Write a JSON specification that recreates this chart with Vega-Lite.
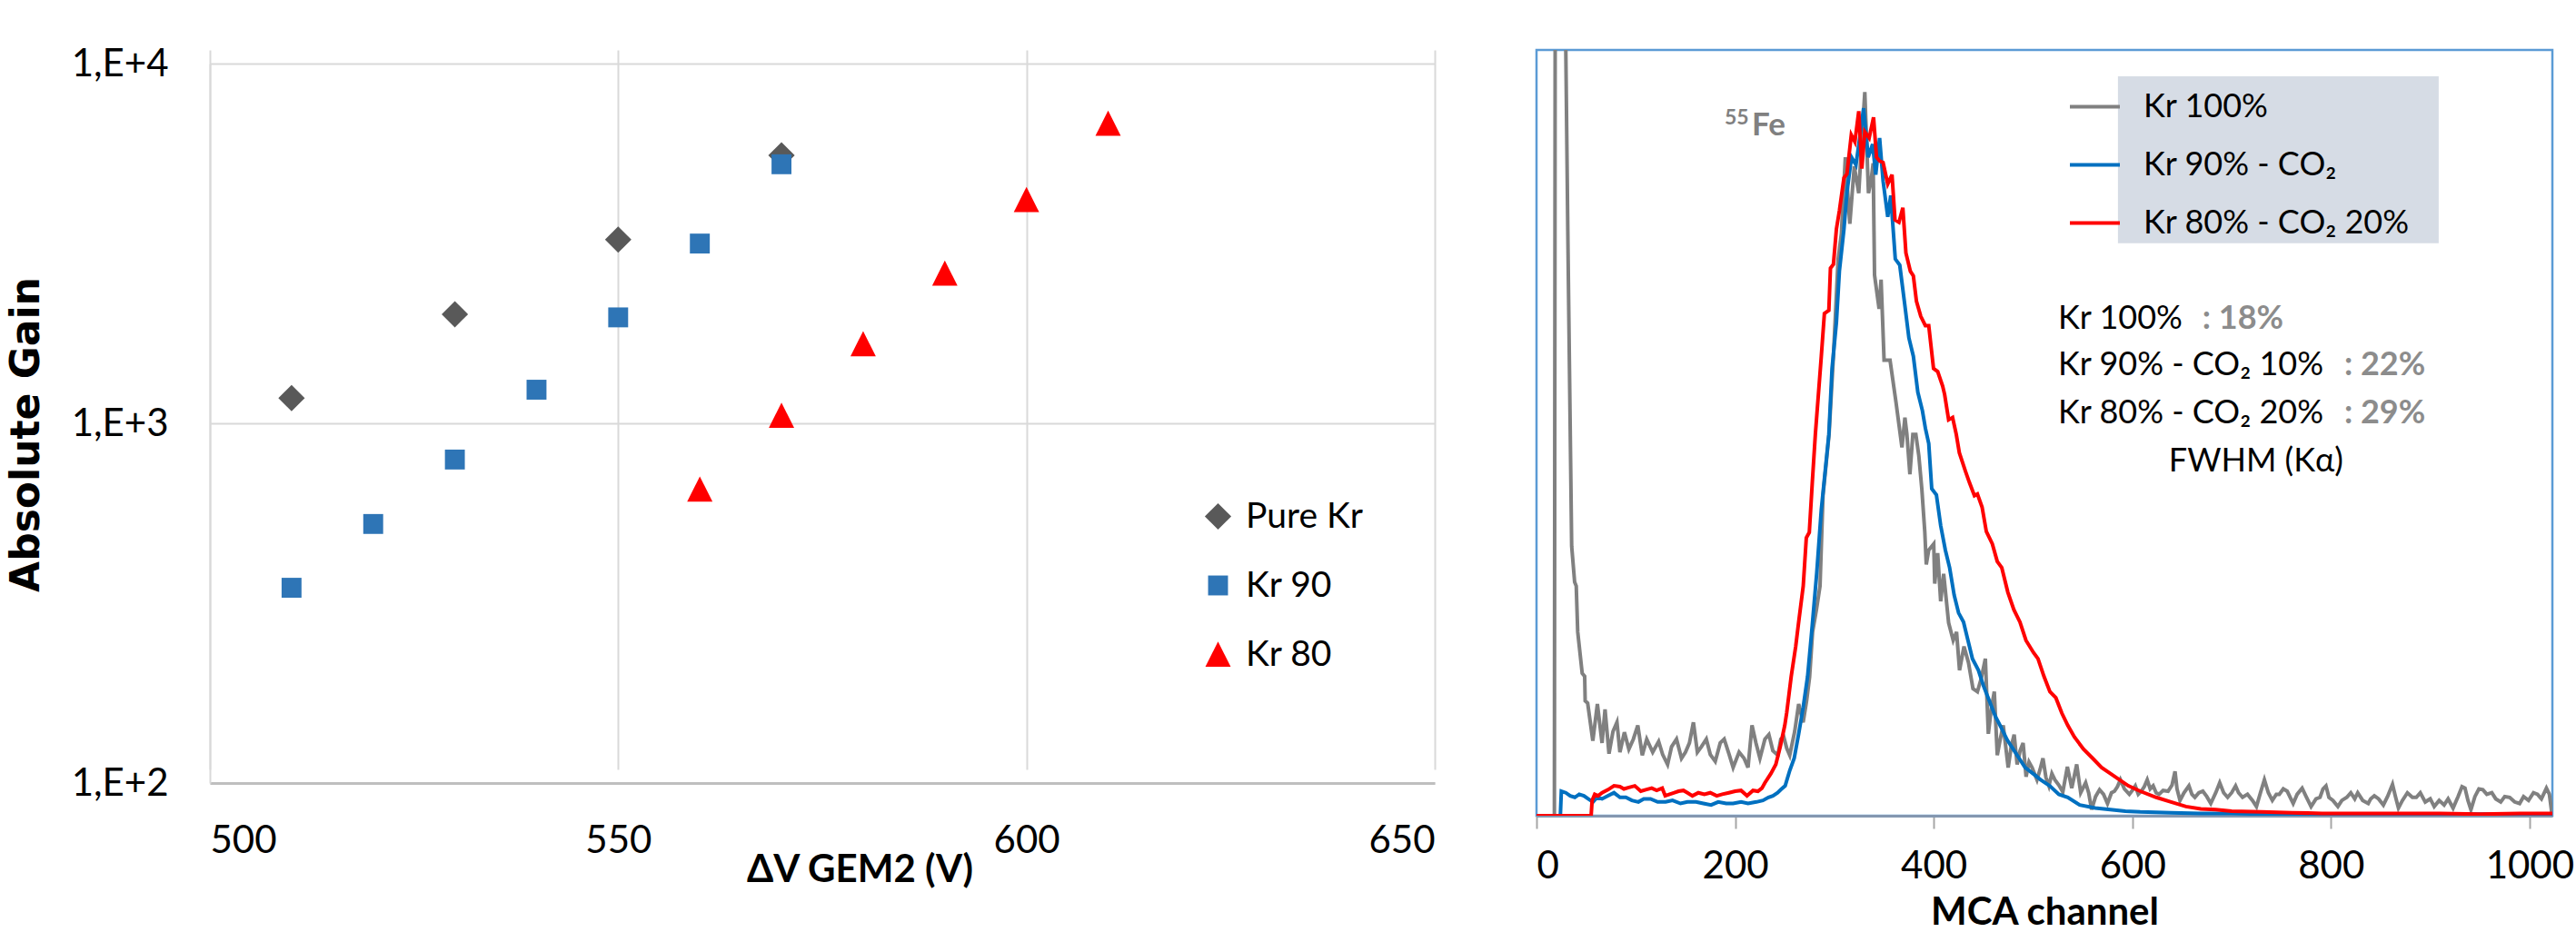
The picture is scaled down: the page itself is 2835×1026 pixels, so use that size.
{
  "$schema": "https://vega.github.io/schema/vega-lite/v6.json",
  "background": "white",
  "padding": {"left": 7, "top": 49, "right": 0, "bottom": 0},
  "config": {"view": {"stroke": null}, "font": "Lato"},
  "datasets": {
    "gain": [
      {"series": "Pure Kr", "dv": 510, "gain": 1175},
      {"series": "Pure Kr", "dv": 530, "gain": 2010},
      {"series": "Pure Kr", "dv": 550, "gain": 3240},
      {"series": "Pure Kr", "dv": 570, "gain": 5560},
      {"series": "Kr 90", "dv": 510, "gain": 349},
      {"series": "Kr 90", "dv": 520, "gain": 525},
      {"series": "Kr 90", "dv": 530, "gain": 793},
      {"series": "Kr 90", "dv": 540, "gain": 1240},
      {"series": "Kr 90", "dv": 550, "gain": 1970},
      {"series": "Kr 90", "dv": 560, "gain": 3160},
      {"series": "Kr 90", "dv": 570, "gain": 5250},
      {"series": "Kr 80", "dv": 560, "gain": 655},
      {"series": "Kr 80", "dv": 570, "gain": 1050},
      {"series": "Kr 80", "dv": 580, "gain": 1660},
      {"series": "Kr 80", "dv": 590, "gain": 2610},
      {"series": "Kr 80", "dv": 600, "gain": 4180},
      {"series": "Kr 80", "dv": 610, "gain": 6810}
    ],
    "kr100": [
      {"ch":0,"v":0},{"ch":17,"v":0},{"ch":18,"v":0},{"ch":19,"v":1300},{"ch":27,"v":1300},{"ch":29.5,"v":1000},{"ch":31.7,"v":742},{"ch":34,"v":498},{"ch":35.4,"v":352},{"ch":38.4,"v":305},{"ch":40,"v":300},{"ch":41.5,"v":240},{"ch":46,"v":186},{"ch":48.5,"v":182},{"ch":49,"v":150},{"ch":51.5,"v":147},{"ch":56.7,"v":98},{"ch":61.3,"v":146},{"ch":66,"v":95},{"ch":69,"v":139},{"ch":73,"v":81},{"ch":77,"v":110},{"ch":81,"v":122},{"ch":84,"v":83},{"ch":88.5,"v":109},{"ch":93,"v":87},{"ch":97.5,"v":100},{"ch":102,"v":118},{"ch":106.5,"v":79},{"ch":111,"v":100},{"ch":117,"v":83},{"ch":123,"v":97},{"ch":127,"v":80},{"ch":132,"v":67},{"ch":136,"v":90},{"ch":141,"v":100},{"ch":146,"v":75},{"ch":150,"v":83},{"ch":154,"v":95},{"ch":158,"v":122},{"ch":162,"v":83},{"ch":166,"v":90},{"ch":171,"v":100},{"ch":175,"v":80},{"ch":180,"v":71},{"ch":185,"v":95},{"ch":189,"v":100},{"ch":194,"v":80},{"ch":198,"v":63},{"ch":204,"v":83},{"ch":209,"v":75},{"ch":213,"v":63},{"ch":217,"v":118},{"ch":221,"v":95},{"ch":225,"v":75},{"ch":230,"v":100},{"ch":234,"v":106},{"ch":238,"v":85},{"ch":243,"v":79},{"ch":246,"v":100},{"ch":249,"v":103},{"ch":252,"v":88},{"ch":255,"v":79},{"ch":260,"v":110},{"ch":264,"v":146},{"ch":268.5,"v":122},{"ch":272,"v":150},{"ch":275,"v":181},{"ch":278,"v":240},{"ch":282,"v":270},{"ch":285.5,"v":300},{"ch":288.5,"v":418},{"ch":294.6,"v":498},{"ch":299,"v":600},{"ch":303.7,"v":726},{"ch":307,"v":760},{"ch":311,"v":860},{"ch":315.5,"v":773},{"ch":320,"v":848},{"ch":324.5,"v":813},{"ch":327,"v":870},{"ch":330.6,"v":945},{"ch":334.3,"v":813},{"ch":337,"v":830},{"ch":339,"v":852},{"ch":340.4,"v":706},{"ch":345,"v":662},{"ch":347,"v":700},{"ch":350,"v":595},{"ch":356,"v":595},{"ch":362,"v":540},{"ch":366.5,"v":496},{"ch":368,"v":481},{"ch":371,"v":520},{"ch":373,"v":498},{"ch":376,"v":446},{"ch":379,"v":498},{"ch":382,"v":498},{"ch":385,"v":470},{"ch":388,"v":427},{"ch":391,"v":371},{"ch":392.5,"v":328},{"ch":395,"v":347},{"ch":400,"v":355},{"ch":401,"v":303},{"ch":404,"v":343},{"ch":407,"v":280},{"ch":410,"v":316},{"ch":415,"v":252},{"ch":419.6,"v":229},{"ch":423,"v":240},{"ch":426,"v":190},{"ch":430.5,"v":221},{"ch":435,"v":200},{"ch":439.5,"v":166},{"ch":444,"v":162},{"ch":448,"v":180},{"ch":452,"v":205},{"ch":455,"v":107},{"ch":458,"v":140},{"ch":461,"v":162},{"ch":464,"v":79},{"ch":467,"v":100},{"ch":470,"v":118},{"ch":475,"v":63},{"ch":478,"v":90},{"ch":481,"v":106},{"ch":484,"v":67},{"ch":487,"v":85},{"ch":490,"v":95},{"ch":493,"v":51},{"ch":496,"v":70},{"ch":499,"v":63},{"ch":504,"v":47},{"ch":507,"v":60},{"ch":510,"v":75},{"ch":513,"v":50},{"ch":516,"v":39},{"ch":519,"v":55},{"ch":522,"v":47},{"ch":526,"v":40},{"ch":530,"v":31},{"ch":534.6,"v":64},{"ch":539,"v":36},{"ch":544,"v":67},{"ch":548,"v":30},{"ch":553,"v":43},{"ch":556,"v":30},{"ch":559,"v":8},{"ch":563,"v":25},{"ch":567,"v":34},{"ch":571,"v":28},{"ch":575,"v":16},{"ch":579,"v":30},{"ch":582,"v":32},{"ch":585,"v":38},{"ch":588,"v":47},{"ch":592,"v":35},{"ch":597,"v":28},{"ch":600,"v":33},{"ch":603,"v":39},{"ch":606,"v":28},{"ch":609,"v":32},{"ch":612,"v":38},{"ch":615,"v":47},{"ch":618,"v":35},{"ch":621,"v":39},{"ch":624,"v":30},{"ch":627,"v":28},{"ch":631,"v":33},{"ch":636,"v":32},{"ch":640,"v":40},{"ch":643,"v":58},{"ch":645,"v":35},{"ch":648,"v":20},{"ch":652,"v":30},{"ch":657,"v":39},{"ch":660,"v":28},{"ch":663,"v":24},{"ch":667,"v":30},{"ch":671,"v":32},{"ch":675,"v":25},{"ch":679,"v":16},{"ch":684,"v":30},{"ch":688,"v":43},{"ch":692,"v":30},{"ch":696,"v":24},{"ch":700,"v":30},{"ch":704,"v":39},{"ch":707,"v":30},{"ch":711,"v":24},{"ch":716,"v":28},{"ch":721,"v":20},{"ch":725,"v":12},{"ch":729,"v":30},{"ch":733,"v":47},{"ch":737,"v":30},{"ch":741,"v":20},{"ch":745,"v":28},{"ch":748,"v":28},{"ch":752,"v":35},{"ch":756,"v":32},{"ch":759,"v":24},{"ch":762,"v":16},{"ch":766,"v":28},{"ch":771,"v":36},{"ch":775,"v":25},{"ch":780,"v":12},{"ch":785,"v":22},{"ch":789,"v":24},{"ch":792,"v":35},{"ch":795,"v":39},{"ch":798,"v":24},{"ch":802,"v":20},{"ch":807,"v":12},{"ch":811,"v":20},{"ch":816,"v":24},{"ch":820,"v":30},{"ch":824,"v":22},{"ch":827,"v":30},{"ch":832,"v":20},{"ch":837.6,"v":16},{"ch":840,"v":22},{"ch":843.7,"v":26},{"ch":848,"v":22},{"ch":852.8,"v":14},{"ch":857,"v":25},{"ch":862,"v":41},{"ch":865,"v":25},{"ch":868,"v":10},{"ch":872,"v":20},{"ch":877,"v":30},{"ch":882,"v":24},{"ch":886,"v":24},{"ch":890,"v":30},{"ch":895,"v":18},{"ch":900,"v":22},{"ch":904,"v":12},{"ch":909,"v":20},{"ch":914,"v":14},{"ch":918,"v":22},{"ch":923,"v":10},{"ch":928,"v":25},{"ch":932,"v":38},{"ch":935,"v":36},{"ch":938,"v":20},{"ch":941,"v":8},{"ch":945,"v":25},{"ch":949,"v":35},{"ch":953,"v":34},{"ch":957,"v":28},{"ch":962,"v":30},{"ch":966,"v":22},{"ch":971,"v":18},{"ch":975,"v":25},{"ch":980,"v":24},{"ch":985,"v":18},{"ch":990,"v":16},{"ch":994,"v":25},{"ch":999,"v":20},{"ch":1004,"v":30},{"ch":1008,"v":28},{"ch":1012,"v":22},{"ch":1017,"v":36},{"ch":1020,"v":28},{"ch":1022,"v":8},{"ch":1023,"v":10}
    ],
    "kr90": [
      {"ch":0,"v":0},{"ch":24,"v":0},{"ch":25,"v":32},{"ch":29.5,"v":30},{"ch":34,"v":26},{"ch":38.6,"v":24},{"ch":43,"v":28},{"ch":47.7,"v":26},{"ch":52,"v":22},{"ch":56.9,"v":18},{"ch":61,"v":24},{"ch":66,"v":22},{"ch":72,"v":26},{"ch":78,"v":30},{"ch":84,"v":24},{"ch":90,"v":24},{"ch":96,"v":20},{"ch":102.6,"v":18},{"ch":108,"v":22},{"ch":114.8,"v":22},{"ch":122,"v":18},{"ch":130,"v":18},{"ch":137,"v":20},{"ch":145,"v":16},{"ch":152,"v":18},{"ch":160.6,"v":18},{"ch":168,"v":16},{"ch":175.8,"v":14},{"ch":183,"v":18},{"ch":191,"v":16},{"ch":198,"v":16},{"ch":206,"v":18},{"ch":213,"v":16},{"ch":221.4,"v":18},{"ch":228,"v":20},{"ch":233.6,"v":24},{"ch":238,"v":26},{"ch":242.8,"v":30},{"ch":246,"v":34},{"ch":250.4,"v":39},{"ch":255,"v":59},{"ch":259.5,"v":75},{"ch":264,"v":107},{"ch":268.6,"v":142},{"ch":273,"v":182},{"ch":277.7,"v":249},{"ch":282.2,"v":317},{"ch":286.8,"v":400},{"ch":291.4,"v":459},{"ch":294.4,"v":498},{"ch":297.6,"v":584},{"ch":302,"v":644},{"ch":305,"v":711},{"ch":309.6,"v":766},{"ch":312.6,"v":814},{"ch":317.2,"v":860},{"ch":321.7,"v":850},{"ch":326.3,"v":893},{"ch":329.4,"v":924},{"ch":334,"v":860},{"ch":338.5,"v":877},{"ch":341.6,"v":837},{"ch":345.5,"v":885},{"ch":349,"v":829},{"ch":353.7,"v":782},{"ch":356.7,"v":810},{"ch":361.3,"v":727},{"ch":365.8,"v":719},{"ch":370.4,"v":672},{"ch":375,"v":624},{"ch":379.5,"v":600},{"ch":384,"v":553},{"ch":388.6,"v":529},{"ch":391.6,"v":506},{"ch":395,"v":486},{"ch":398,"v":427},{"ch":402.7,"v":419},{"ch":407,"v":379},{"ch":411.7,"v":347},{"ch":416,"v":324},{"ch":420.6,"v":288},{"ch":425,"v":265},{"ch":430,"v":253},{"ch":434.5,"v":229},{"ch":439,"v":205},{"ch":445,"v":190},{"ch":450,"v":170},{"ch":456,"v":150},{"ch":462,"v":130},{"ch":468,"v":115},{"ch":474,"v":99},{"ch":480,"v":87},{"ch":486,"v":75},{"ch":492,"v":63},{"ch":500,"v":55},{"ch":507.6,"v":47},{"ch":516.8,"v":39},{"ch":526,"v":28},{"ch":535,"v":24},{"ch":547,"v":14},{"ch":562.6,"v":10},{"ch":577.8,"v":8},{"ch":593,"v":6},{"ch":608,"v":5},{"ch":639,"v":4},{"ch":669,"v":3},{"ch":700,"v":3},{"ch":730,"v":2},{"ch":761,"v":2},{"ch":791,"v":2},{"ch":850,"v":2},{"ch":900,"v":2},{"ch":950,"v":2},{"ch":1000,"v":2},{"ch":1023,"v":2}
    ],
    "kr80": [
      {"ch":0,"v":0},{"ch":55,"v":0},{"ch":56,"v":20},{"ch":58.6,"v":28},{"ch":62,"v":26},{"ch":66,"v":30},{"ch":72,"v":34},{"ch":78,"v":39},{"ch":84,"v":38},{"ch":88,"v":35},{"ch":93,"v":37},{"ch":99,"v":39},{"ch":105,"v":32},{"ch":110,"v":34},{"ch":116,"v":36},{"ch":121,"v":33},{"ch":126.6,"v":36},{"ch":129.6,"v":26},{"ch":134,"v":28},{"ch":138.8,"v":30},{"ch":143,"v":32},{"ch":148,"v":33},{"ch":152,"v":30},{"ch":157,"v":26},{"ch":163,"v":30},{"ch":169,"v":28},{"ch":175,"v":30},{"ch":181.5,"v":26},{"ch":187,"v":28},{"ch":193.7,"v":30},{"ch":200,"v":32},{"ch":206,"v":33},{"ch":212,"v":26},{"ch":218,"v":33},{"ch":223,"v":32},{"ch":227,"v":36},{"ch":230,"v":43},{"ch":236,"v":55},{"ch":241,"v":67},{"ch":245.6,"v":91},{"ch":250,"v":118},{"ch":252,"v":135},{"ch":256.5,"v":182},{"ch":261,"v":221},{"ch":264,"v":253},{"ch":268.6,"v":300},{"ch":271.7,"v":363},{"ch":274.7,"v":370},{"ch":277.7,"v":435},{"ch":280.8,"v":498},{"ch":286.8,"v":600},{"ch":289.9,"v":656},{"ch":294.4,"v":660},{"ch":296,"v":715},{"ch":299,"v":720},{"ch":302,"v":766},{"ch":305,"v":790},{"ch":309.6,"v":833},{"ch":312.6,"v":838},{"ch":317,"v":889},{"ch":320.6,"v":880},{"ch":324.5,"v":920},{"ch":327.6,"v":845},{"ch":330.6,"v":893},{"ch":335,"v":885},{"ch":339.4,"v":912},{"ch":342.4,"v":860},{"ch":345.5,"v":855},{"ch":349,"v":853},{"ch":353.7,"v":825},{"ch":358,"v":837},{"ch":361,"v":778},{"ch":365,"v":775},{"ch":368.9,"v":794},{"ch":372,"v":735},{"ch":376.5,"v":711},{"ch":379.5,"v":705},{"ch":382.6,"v":672},{"ch":387,"v":652},{"ch":391.6,"v":640},{"ch":395,"v":640},{"ch":399.8,"v":584},{"ch":404,"v":580},{"ch":409,"v":561},{"ch":411,"v":550},{"ch":415,"v":517},{"ch":419,"v":520},{"ch":422.7,"v":498},{"ch":425.8,"v":474},{"ch":431.9,"v":450},{"ch":436,"v":435},{"ch":441,"v":418},{"ch":444,"v":420},{"ch":448.7,"v":403},{"ch":453,"v":371},{"ch":459,"v":355},{"ch":464,"v":332},{"ch":468.5,"v":324},{"ch":474.6,"v":292},{"ch":480.7,"v":269},{"ch":486.8,"v":253},{"ch":492.9,"v":229},{"ch":500.5,"v":213},{"ch":505,"v":205},{"ch":511,"v":182},{"ch":517,"v":162},{"ch":523,"v":154},{"ch":529,"v":134},{"ch":535,"v":118},{"ch":541.6,"v":103},{"ch":550.8,"v":87},{"ch":560,"v":75},{"ch":569,"v":63},{"ch":578,"v":55},{"ch":587,"v":47},{"ch":596,"v":39},{"ch":608,"v":32},{"ch":624,"v":24},{"ch":639,"v":18},{"ch":654,"v":12},{"ch":669,"v":9},{"ch":684,"v":8},{"ch":700,"v":6},{"ch":730,"v":5},{"ch":761,"v":4},{"ch":791,"v":3},{"ch":830,"v":3},{"ch":870,"v":3},{"ch":910,"v":3},{"ch":950,"v":2},{"ch":990,"v":3},{"ch":1023,"v":3}
    ]
  },
  "spacing": 109,
  "resolve": {
    "scale": {"color": "independent", "shape": "independent", "x": "independent", "y": "independent"},
    "legend": {"color": "independent", "shape": "independent"}
  },
  "hconcat": [
    {
      "width": 1348,
      "height": 807,
      "data": {"name": "gain"},
      "mark": {"type": "point", "filled": true, "opacity": 1, "size": 900},
      "encoding": {
        "x": {
          "field": "dv", "type": "quantitative",
          "scale": {"domain": [500, 650], "nice": false, "zero": false},
          "axis": {
            "values": [500, 550, 600, 650],
            "grid": true, "gridColor": "#D9D9D9", "gridWidth": 2,
            "domainColor": "#BFBFBF", "domainWidth": 3,
            "ticks": false, "tickSize": 0,
            "labelFont": "Lato", "labelFontSize": 42, "labelColor": "#000000",
            "labelBaseline": "alphabetic", "labelPadding": 76,
            "title": "ΔV GEM2 (V)", "titleFont": "Lato", "titleFontSize": 42, "titleFontWeight": "bold", "titleColor": "#000000",
            "titleX": 715, "titleY": 108, "titleBaseline": "alphabetic", "titleAlign": "center"
          }
        },
        "y": {
          "field": "gain", "type": "quantitative",
          "scale": {"type": "log", "domain": [100, 10000], "nice": false, "range": [807, 15]},
          "axis": {
            "values": [100, 1000, 10000],
            "labelExpr": "'1,E+' + round(log(datum.value)/LN10)",
            "grid": true, "gridColor": "#D9D9D9", "gridWidth": 2,
            "domainColor": "#D9D9D9", "domainWidth": 2,
            "ticks": false, "tickSize": 0,
            "labelFont": "Lato", "labelFontSize": 42, "labelColor": "#000000",
            "labelBaseline": "middle", "labelPadding": 46,
            "title": "Absolute Gain", "titleFont": "DejaVu Sans", "titleFontSize": 44, "titleFontWeight": "bold", "titleColor": "#000000",
            "titleAngle": 270, "titleX": -189, "titleY": 423, "titleBaseline": "alphabetic", "titleAlign": "center"
          }
        },
        "color": {
          "field": "series", "type": "nominal",
          "scale": {"domain": ["Pure Kr", "Kr 90", "Kr 80"], "range": ["#595959", "#2E75B6", "#FF0000"]},
          "legend": {
            "title": null, "orient": "none", "legendX": 1090, "legendY": 494, "padding": 0,
            "symbolSize": 900,
            "labelFont": "Lato", "labelFontSize": 39, "labelColor": "#000000", "labelOffset": 11,
            "rowPadding": 36
          }
        },
        "shape": {
          "field": "series", "type": "nominal",
          "scale": {"domain": ["Pure Kr", "Kr 90", "Kr 80"], "range": ["M0,-0.97L0.97,0L0,0.97L-0.97,0Z", "M-0.73,-0.73H0.73V0.73H-0.73Z", "M0,-0.95L0.93,0.9H-0.93Z"]}
        }
      }
    },
    {
      "width": 1118,
      "height": 843,
      "view": {"stroke": "#5B9BD5", "strokeWidth": 2.5},
      "layer": [
        {
          "data": {"values": [{"box": "legend"}]},
          "mark": {"type": "rect", "color": "#D6DCE5"},
          "encoding": {
            "x": {"datum": 585.5, "type": "quantitative"},
            "x2": {"datum": 908.5},
            "y": {"datum": 965.6, "type": "quantitative"},
            "y2": {"datum": 747.6}
          }
        },
        {
          "data": {"name": "kr100"},
          "mark": {"type": "line", "strokeWidth": 4, "clip": true},
          "encoding": {
            "x": {"field": "ch", "type": "quantitative"},
            "y": {"field": "v", "type": "quantitative"},
            "color": {"datum": "Kr 100%"}
          }
        },
        {
          "data": {"name": "kr90"},
          "mark": {"type": "line", "strokeWidth": 4, "clip": true},
          "encoding": {
            "x": {"field": "ch", "type": "quantitative"},
            "y": {"field": "v", "type": "quantitative"},
            "color": {"datum": "Kr 90% - CO₂"}
          }
        },
        {
          "data": {"name": "kr80"},
          "mark": {"type": "line", "strokeWidth": 4, "clip": true},
          "encoding": {
            "x": {"field": "ch", "type": "quantitative"},
            "y": {"field": "v", "type": "quantitative"},
            "color": {"datum": "Kr 80% - CO₂ 20%"}
          }
        },
        {
          "data": {"values": [{"note": "55"}]},
          "mark": {"type": "text", "align": "left", "baseline": "alphabetic", "font": "Lato", "fontWeight": "bold", "fontSize": 23, "color": "#808080"},
          "encoding": {"text": {"field": "note"}, "x": {"datum": 189.4, "type": "quantitative"}, "y": {"datum": 903, "type": "quantitative"}}
        },
        {
          "data": {"values": [{"note": "Fe"}]},
          "mark": {"type": "text", "align": "left", "baseline": "alphabetic", "font": "Lato", "fontWeight": "bold", "fontSize": 35, "color": "#808080"},
          "encoding": {"text": {"field": "note"}, "x": {"datum": 216.8, "type": "quantitative"}, "y": {"datum": 889, "type": "quantitative"}}
        },
        {
          "data": {"values": [{"note": "Kr 100%"}]},
          "mark": {"type": "text", "align": "left", "baseline": "alphabetic", "font": "Lato", "fontSize": 36, "color": "#000000"},
          "encoding": {"text": {"field": "note"}, "x": {"datum": 525.2, "type": "quantitative"}, "y": {"datum": 636, "type": "quantitative"}}
        },
        {
          "data": {"values": [{"note": ": 18%"}]},
          "mark": {"type": "text", "align": "left", "baseline": "alphabetic", "font": "Lato", "fontWeight": "bold", "fontSize": 36, "color": "#8C8C8C"},
          "encoding": {"text": {"field": "note"}, "x": {"datum": 670.5, "type": "quantitative"}, "y": {"datum": 636, "type": "quantitative"}}
        },
        {
          "data": {"values": [{"note": "Kr 90% - CO₂ 10%"}]},
          "mark": {"type": "text", "align": "left", "baseline": "alphabetic", "font": "Lato", "fontSize": 36, "color": "#000000"},
          "encoding": {"text": {"field": "note"}, "x": {"datum": 525.2, "type": "quantitative"}, "y": {"datum": 575, "type": "quantitative"}}
        },
        {
          "data": {"values": [{"note": ": 22%"}]},
          "mark": {"type": "text", "align": "left", "baseline": "alphabetic", "font": "Lato", "fontWeight": "bold", "fontSize": 36, "color": "#8C8C8C"},
          "encoding": {"text": {"field": "note"}, "x": {"datum": 813.4, "type": "quantitative"}, "y": {"datum": 575, "type": "quantitative"}}
        },
        {
          "data": {"values": [{"note": "Kr 80% - CO₂ 20%"}]},
          "mark": {"type": "text", "align": "left", "baseline": "alphabetic", "font": "Lato", "fontSize": 36, "color": "#000000"},
          "encoding": {"text": {"field": "note"}, "x": {"datum": 525.2, "type": "quantitative"}, "y": {"datum": 513, "type": "quantitative"}}
        },
        {
          "data": {"values": [{"note": ": 29%"}]},
          "mark": {"type": "text", "align": "left", "baseline": "alphabetic", "font": "Lato", "fontWeight": "bold", "fontSize": 36, "color": "#8C8C8C"},
          "encoding": {"text": {"field": "note"}, "x": {"datum": 813.4, "type": "quantitative"}, "y": {"datum": 513, "type": "quantitative"}}
        },
        {
          "data": {"values": [{"note": "FWHM (Kα)"}]},
          "mark": {"type": "text", "align": "center", "baseline": "alphabetic", "font": "Lato", "fontSize": 36, "color": "#000000"},
          "encoding": {"text": {"field": "note"}, "x": {"datum": 724.6, "type": "quantitative"}, "y": {"datum": 450, "type": "quantitative"}}
        }
      ],
      "encoding": {
        "x": {
          "type": "quantitative",
          "scale": {"domain": [0, 1023], "nice": false, "zero": false},
          "axis": {
            "values": [0, 200, 400, 600, 800, 1000],
            "format": "d",
            "grid": false,
            "domainColor": "#8497B0", "domainWidth": 3,
            "ticks": true, "tickColor": "#A6A6A6", "tickWidth": 2, "tickSize": 14,
            "labelFont": "Lato", "labelFontSize": 42, "labelColor": "#000000",
            "labelBaseline": "alphabetic", "labelPadding": 54,
            "title": "MCA channel", "titleFont": "Lato", "titleFontSize": 42, "titleFontWeight": "bold", "titleColor": "#000000",
            "titleY": 119, "titleBaseline": "alphabetic"
          }
        },
        "y": {
          "type": "quantitative",
          "scale": {"domain": [0, 1000], "nice": false, "zero": false},
          "axis": null
        },
        "color": {
          "type": "nominal",
          "scale": {"domain": ["Kr 100%", "Kr 90% - CO₂", "Kr 80% - CO₂ 20%"], "range": ["#808080", "#0070C0", "#FF0000"]},
          "legend": {
            "title": null, "orient": "none", "legendX": 585, "legendY": 33, "padding": 0,
            "symbolType": "stroke", "symbolStrokeWidth": 4, "symbolSize": 3025,
            "labelFont": "Lato", "labelFontSize": 36, "labelColor": "#000000", "labelOffset": 24, "labelLimit": 800,
            "rowPadding": 16
          }
        }
      }
    }
  ]
}
